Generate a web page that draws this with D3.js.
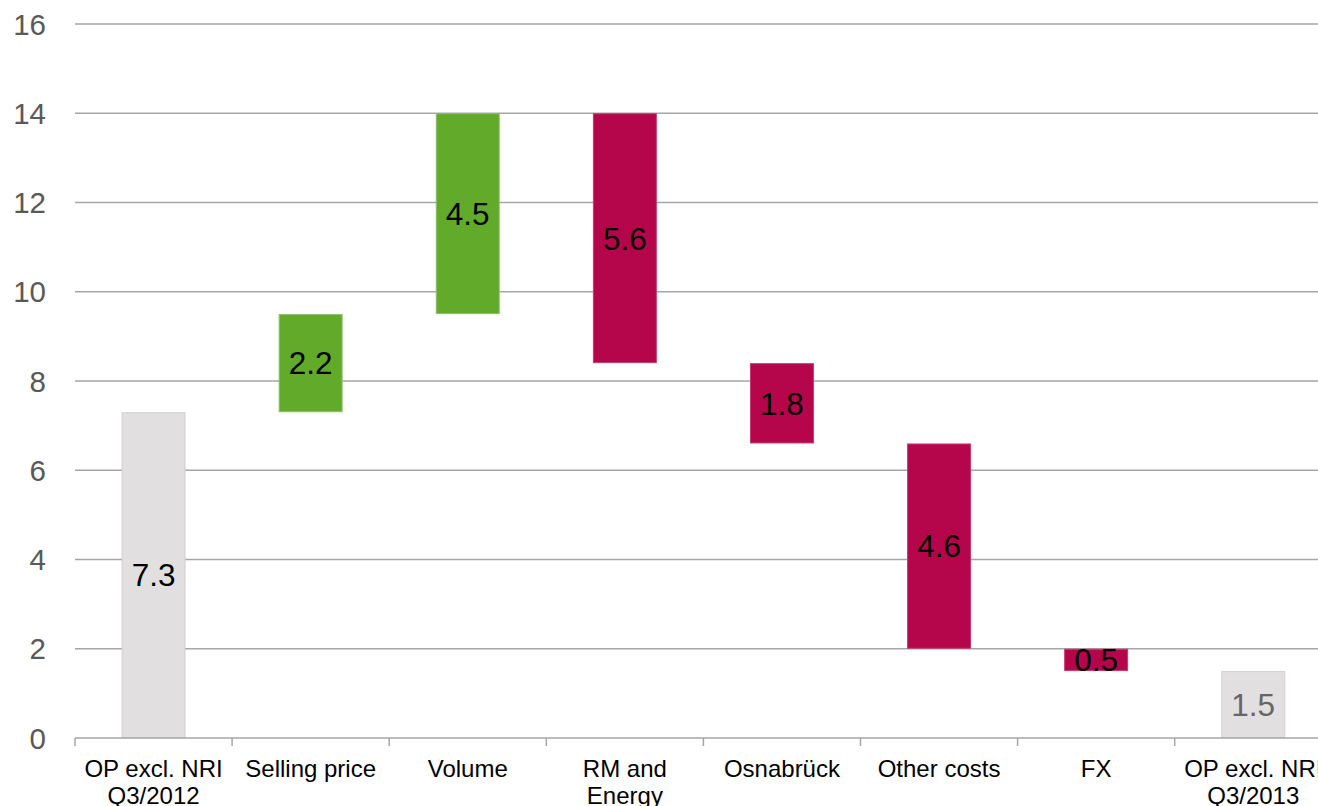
<!DOCTYPE html>
<html>
<head>
<meta charset="utf-8">
<script src="https://cdn.jsdelivr.net/npm/d3@7"></script>
<style>
  html, body { margin: 0; padding: 0; background: #fff; }
  svg { display: block; font-family: "Liberation Sans", Arial, sans-serif; }
</style>
</head>
<body>
<svg id="chart" width="1318" height="806"></svg>
<script>
// ---- Data ----
const categories = [
  ["OP excl. NRI", "Q3/2012"],
  ["Selling price"],
  ["Volume"],
  ["RM and", "Energy"],
  ["Osnabrück"],
  ["Other costs"],
  ["FX"],
  ["OP excl. NRI", "Q3/2013"]
];
const changes = [7.3, 2.2, 4.5, -5.6, -1.8, -4.6, -0.5, 1.5];
const kinds = ["total", "up", "up", "down", "down", "down", "down", "total"];
const labels = ["7.3", "2.2", "4.5", "5.6", "1.8", "4.6", "0.5", "1.5"];
const yTicks = [0, 2, 4, 6, 8, 10, 12, 14, 16];

// ---- Layout ----
const W = 1318, H = 806;
const left = 75, step = 157.1;
const y0px = 738, y16px = 24;

const svg = d3.select("#chart");
const keys = categories.map((c, i) => "c" + i);

const xAxisScale = d3.scaleBand().domain(keys).range([left, left + step * keys.length]).padding(0);
const xBar = d3.scaleBand().domain(keys).range([left, left + step * keys.length])
  .paddingInner(0.593).paddingOuter(0.2965);
const y = d3.scaleLinear().domain([0, 16]).range([y0px, y16px]);

// waterfall computation
let running = 0;
const bars = changes.map((v, i) => {
  let start, end;
  if (kinds[i] === "total") { start = 0; end = v; running = v; }
  else { start = running; end = running + v; running = end; }
  return { key: keys[i], lo: Math.min(start, end), hi: Math.max(start, end), kind: kinds[i], label: labels[i], i };
});

const fill = { total: "#e1dfe0", up: "#62ab2a", down: "#b5064b" };
const stroke = { total: "#d2d0d1", up: "#8cbf68", down: "#c43a6e" };

// gridlines
svg.append("g").selectAll("line").data(yTicks.filter(t => t > 0)).join("line")
  .attr("x1", left).attr("x2", W)
  .attr("y1", d => y(d)).attr("y2", d => y(d))
  .attr("stroke", "#a6a6a6").attr("stroke-width", 1.5);

// y tick labels
svg.append("g").selectAll("text").data(yTicks).join("text")
  .attr("x", 46).attr("y", d => y(d)).attr("dy", "0.36em")
  .attr("text-anchor", "end")
  .attr("font-size", 29.5).attr("fill", "#595959")
  .text(d => d);

// bars
svg.append("g").selectAll("rect").data(bars).join("rect")
  .attr("x", d => xBar(d.key) + 0.5)
  .attr("width", xBar.bandwidth() - 1)
  .attr("y", d => y(d.hi) + 0.5)
  .attr("height", d => y(d.lo) - y(d.hi) - 1)
  .attr("fill", d => fill[d.kind])
  .attr("stroke", d => stroke[d.kind])
  .attr("stroke-width", 1);

// x axis baseline + ticks
const axisG = svg.append("g");
axisG.append("line")
  .attr("x1", left).attr("x2", W)
  .attr("y1", y(0)).attr("y2", y(0))
  .attr("stroke", "#a6a6a6").attr("stroke-width", 1.5);
axisG.selectAll("line.tick").data(keys).join("line").attr("class", "tick")
  .attr("x1", d => xAxisScale(d)).attr("x2", d => xAxisScale(d))
  .attr("y1", y(0)).attr("y2", y(0) + 8)
  .attr("stroke", "#a6a6a6").attr("stroke-width", 1.5);

// x category labels
const lbl = axisG.selectAll("text.cat").data(categories).join("text").attr("class", "cat")
  .attr("text-anchor", "middle")
  .attr("font-size", 24).attr("fill", "#000")
  .attr("transform", (d, i) => `translate(${xAxisScale(keys[i]) + xAxisScale.bandwidth() / 2},777)`);
lbl.selectAll("tspan").data(d => d).join("tspan")
  .attr("x", 0).attr("y", (d, j) => j * 27)
  .text(d => d);

// data labels
svg.append("g").selectAll("text").data(bars).join("text")
  .attr("x", d => xBar(d.key) + xBar.bandwidth() / 2)
  .attr("y", d => (y(d.lo) + y(d.hi)) / 2)
  .attr("dy", "0.36em")
  .attr("text-anchor", "middle")
  .attr("font-size", 31.5)
  .attr("fill", d => d.i === bars.length - 1 ? "#666666" : "#000")
  .text(d => d.label);
</script>
</body>
</html>
